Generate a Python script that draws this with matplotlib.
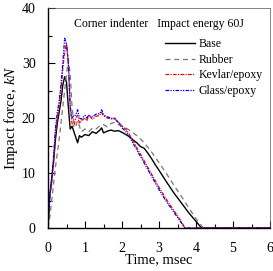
import matplotlib.pyplot as plt
from matplotlib.ticker import MultipleLocator

plt.rcParams['font.family'] = ['Liberation Serif', 'DejaVu Serif']
plt.rcParams['mathtext.fontset'] = 'custom'
plt.rcParams['mathtext.it'] = 'Liberation Serif:italic'
plt.rcParams['mathtext.rm'] = 'Liberation Serif'

#####################################################################
# data (time in msec, force in kN)
t_base = [0, 0.05, 0.1, 0.15, 0.2, 0.25, 0.3, 0.35, 0.4, 0.45, 0.5, 0.55, 0.6, 0.65, 0.7, 0.75,
          0.8, 0.85, 0.9, 1.0, 1.1, 1.2, 1.3, 1.4, 1.45, 1.5, 1.6, 1.7, 1.8, 1.9, 2.0, 2.1,
          2.2, 2.3, 2.4, 2.5, 2.6, 2.7, 2.8, 2.9, 3.0, 3.2, 3.4, 3.6, 3.8, 4.0, 4.15, 4.5, 5.0, 5.5, 6.0]
f_base = [0, 6, 9, 12, 16, 19, 21, 23, 26, 27.5, 26.5, 22, 18, 18.5, 17.5, 16.5,
          15.5, 16.8, 16.5, 17, 16.8, 17.5, 17.2, 17.8, 18.2, 17.3, 17.6, 17.8, 17.6, 17.7, 17.4, 17.0,
          16.6, 16.0, 15.5, 14.8, 14.5, 13.6, 12.6, 11.5, 10.5, 8.4, 6.4, 4.6, 2.8, 1.2, 0, 0, 0, 0, 0]

t_rubber = [0, 0.05, 0.1, 0.15, 0.2, 0.25, 0.3, 0.35, 0.4, 0.45, 0.5, 0.55, 0.6, 0.65, 0.7, 0.75,
            0.8, 0.9, 1.0, 1.1, 1.2, 1.3, 1.4, 1.5, 1.6, 1.7, 1.8, 1.9, 2.0, 2.1, 2.2, 2.3,
            2.4, 2.5, 2.6, 2.8, 3.0, 3.2, 3.4, 3.6, 3.8, 4.0, 4.2, 4.5, 5.0, 5.5, 6.0]
f_rubber = [0, 2, 5, 8, 11, 13.5, 16, 19, 22, 25, 28, 30.5, 28, 22, 19, 18.5,
            19.5, 17.5, 18, 17.5, 18.2, 18, 18.6, 18.8, 18.4, 19, 19.2, 18.8, 18.6, 18.2, 17.8, 17.3,
            16.8, 16.2, 15.5, 13.8, 11.9, 9.9, 7.8, 5.8, 3.7, 1.7, 0, 0, 0, 0, 0]

t_kevlar = [0, 0.05, 0.1, 0.15, 0.2, 0.25, 0.3, 0.35, 0.4, 0.45, 0.5, 0.55, 0.6, 0.65, 0.7, 0.75,
            0.8, 0.85, 0.9, 1.0, 1.05, 1.1, 1.2, 1.3, 1.4, 1.45, 1.5, 1.6, 1.7, 1.8, 1.9, 2.0,
            2.1, 2.2, 2.3, 2.4, 2.5, 2.6, 2.8, 3.0, 3.2, 3.4, 3.6, 3.7, 4.0, 4.5, 5.0, 5.5, 6.0]
f_kevlar = [0, 6, 8, 12, 17, 20, 22, 25, 29, 32, 33.5, 30, 22, 19, 18.5, 20,
            20.5, 19, 19.5, 20, 19.5, 20.5, 19.8, 20.3, 20.5, 21, 20.4, 20, 19.8, 20, 19.3, 18.5,
            18, 17, 15.8, 14.6, 13.4, 12.2, 9.8, 7.4, 5.2, 3.2, 1.2, 0, 0, 0, 0, 0, 0]

t_glass = [0, 0.05, 0.1, 0.15, 0.2, 0.25, 0.3, 0.35, 0.4, 0.45, 0.5, 0.55, 0.6, 0.65, 0.7, 0.75,
           0.8, 0.85, 0.9, 1.0, 1.05, 1.1, 1.2, 1.3, 1.4, 1.45, 1.5, 1.6, 1.7, 1.8, 1.9, 2.0,
           2.1, 2.2, 2.3, 2.4, 2.5, 2.6, 2.8, 3.0, 3.2, 3.4, 3.6, 3.7, 4.0, 4.5, 5.0, 5.5, 6.0]
f_glass = [0, 6, 9, 13, 18, 21, 23, 26, 30, 34.5, 33.5, 30, 22, 20, 20.5, 20.5,
           21.5, 20, 19.8, 20.5, 20, 20.5, 20.2, 20.7, 20.8, 21.5, 20.6, 20.2, 20, 19.8, 19.2, 18.2,
           17.6, 16.6, 15.4, 14.2, 13, 11.8, 9.4, 7.0, 4.8, 2.9, 1.0, 0, 0, 0, 0, 0, 0]

#####################################################################
fig = plt.figure(figsize=(2.73, 2.71), dpi=100)
s1 = fig.add_axes([48/273, 1 - 228/271, 222/273, 220/271])

s1.plot(t_base, f_base, color='k', lw=1.0, label='Base')
s1.plot(t_rubber, f_rubber, color='#777777', lw=0.9, dashes=(4, 3), label='Rubber')
s1.plot(t_kevlar, f_kevlar, color='red', lw=0.9, dashes=(3, 1, 1, 1), label='Kevlar/epoxy')
s1.plot(t_glass, f_glass, color='blue', lw=0.9, dashes=(3, 1, 1, 1, 1, 1), label='Glass/epoxy')

s1.set_xlim(0, 6)
s1.set_ylim(0, 40)
s1.xaxis.set_major_locator(MultipleLocator(1))
s1.xaxis.set_minor_locator(MultipleLocator(0.5))
s1.yaxis.set_major_locator(MultipleLocator(10))
s1.yaxis.set_minor_locator(MultipleLocator(5))
s1.tick_params(which='both', direction='in', labelsize=10, width=0.8)
s1.tick_params(which='major', length=5)
s1.tick_params(which='minor', length=3)
s1.tick_params(axis='x', pad=10)
s1.tick_params(axis='y', pad=9)

for side in ['left', 'bottom']:
    s1.spines[side].set_linewidth(1.0)
for side in ['top', 'right']:
    s1.spines[side].set_linewidth(0.5)
    s1.spines[side].set_color('#555555')

s1.set_xlabel('Time, msec', fontsize=10.5, labelpad=-1)
s1.set_ylabel('Impact force, $\\mathit{kN}$', fontsize=11, labelpad=1)
s1.text(0.5, 0.925, 'Corner indenter   Impact energy 60J', transform=s1.transAxes,
        ha='center', va='center', fontsize=8.5)
s1.legend(loc='upper right', bbox_to_anchor=(1.0, 0.895), frameon=False, fontsize=8.5,
          handlelength=2.6, handletextpad=0.3, labelspacing=0.3, borderaxespad=0.2)

plt.savefig('out.png', dpi=100)
